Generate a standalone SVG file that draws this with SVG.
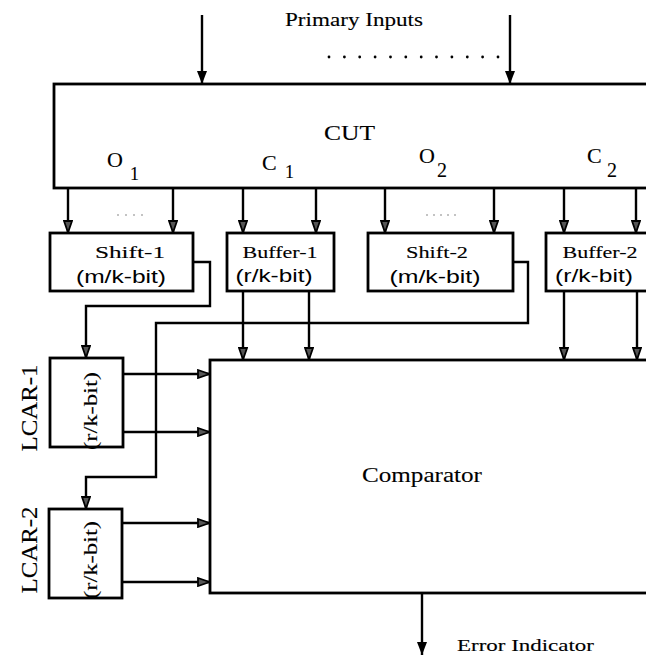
<svg xmlns="http://www.w3.org/2000/svg" width="646" height="657" viewBox="0 0 646 657">
<style>
.box{fill:none;stroke:#000;stroke-width:2.8}
.ln{fill:none;stroke:#000;stroke-width:2.4}
.s{font-family:"Liberation Serif","Times New Roman",serif;fill:#000;stroke:#000;stroke-width:0.12}
.ss{font-family:"Liberation Sans",Arial,sans-serif;fill:#000}
.dot{fill:#000}
</style>
<defs>
<marker id="ah" viewBox="0 0 13 10" refX="13" refY="5" markerWidth="13" markerHeight="10" orient="auto" markerUnits="userSpaceOnUse">
<path d="M1,1 L12.5,5 L1,9 Z" fill="#555" stroke="#000" stroke-width="1.8"/>
</marker>
<marker id="as" viewBox="0 0 13 10" refX="13" refY="5" markerWidth="14" markerHeight="10" orient="auto" markerUnits="userSpaceOnUse">
<path d="M0,0 L13,5 L0,10 Z" fill="#000"/>
</marker>
</defs>
<rect width="646" height="657" fill="#fff"/>

<g id="labels">
<text class="s" x="285" y="26" font-size="19" textLength="138" lengthAdjust="spacingAndGlyphs">Primary Inputs</text>
<g class="dot">
<circle cx="329" cy="57" r="1.4"/><circle cx="344.4" cy="57" r="1.4"/><circle cx="359.7" cy="57" r="1.4"/><circle cx="375.1" cy="57" r="1.4"/><circle cx="390.5" cy="57" r="1.4"/><circle cx="405.8" cy="57" r="1.4"/><circle cx="421.2" cy="57" r="1.4"/><circle cx="436.5" cy="57" r="1.4"/><circle cx="451.9" cy="57" r="1.4"/><circle cx="467.3" cy="57" r="1.4"/><circle cx="482.6" cy="57" r="1.4"/><circle cx="498" cy="57" r="1.4"/>
</g>
<g fill="#777">
<circle cx="118" cy="215" r="0.8"/><circle cx="126" cy="215" r="0.8"/><circle cx="134" cy="215" r="0.8"/><circle cx="142" cy="215" r="0.8"/>
<circle cx="427" cy="215" r="0.8"/><circle cx="434" cy="215" r="0.8"/><circle cx="441" cy="215" r="0.8"/><circle cx="448" cy="215" r="0.8"/><circle cx="455" cy="215" r="0.8"/>
</g>
<text class="s" x="457" y="651" font-size="16" textLength="137" lengthAdjust="spacingAndGlyphs">Error Indicator</text>
</g>

<g id="cut">
<rect class="box" x="54" y="84" width="610" height="104"/>
<text class="s" x="324" y="140" font-size="21" textLength="51" lengthAdjust="spacingAndGlyphs">CUT</text>
<text class="s" x="107" y="167" font-size="22">O</text><text class="s" x="130" y="180" font-size="18">1</text>
<text class="s" x="262" y="170" font-size="22">C</text><text class="s" x="285" y="178" font-size="18">1</text>
<text class="s" x="419" y="163" font-size="22">O</text><text class="s" x="437" y="177" font-size="20">2</text>
<text class="s" x="587" y="163" font-size="22">C</text><text class="s" x="607" y="177" font-size="20">2</text>
</g>

<g id="shift1">
<rect class="box" x="50" y="233" width="143" height="58"/>
<text class="s" x="130" y="258" font-size="17" text-anchor="middle" textLength="70" lengthAdjust="spacingAndGlyphs">Shift-1</text>
<text class="ss" x="121" y="283" font-size="19" text-anchor="middle" textLength="90" lengthAdjust="spacingAndGlyphs">(m/k-bit)</text>
</g>
<g id="buffer1">
<rect class="box" x="227" y="233" width="107" height="58"/>
<text class="s" x="280" y="258" font-size="17" text-anchor="middle" textLength="75" lengthAdjust="spacingAndGlyphs">Buffer-1</text>
<text class="ss" x="274" y="282" font-size="19" text-anchor="middle" textLength="77" lengthAdjust="spacingAndGlyphs">(r/k-bit)</text>
</g>
<g id="shift2">
<rect class="box" x="368" y="233" width="145" height="58"/>
<text class="s" x="437" y="258" font-size="17" text-anchor="middle" textLength="62" lengthAdjust="spacingAndGlyphs">Shift-2</text>
<text class="ss" x="435" y="283" font-size="19" text-anchor="middle" textLength="91" lengthAdjust="spacingAndGlyphs">(m/k-bit)</text>
</g>
<g id="buffer2">
<rect class="box" x="546" y="233" width="110" height="58"/>
<text class="s" x="600" y="258" font-size="17" text-anchor="middle" textLength="75" lengthAdjust="spacingAndGlyphs">Buffer-2</text>
<text class="ss" x="594" y="282" font-size="19" text-anchor="middle" textLength="78" lengthAdjust="spacingAndGlyphs">(r/k-bit)</text>
</g>

<g id="lcar1">
<rect class="box" x="50" y="358" width="73" height="89"/>
<text class="s" transform="translate(97,411) rotate(-90)" font-size="19" text-anchor="middle" textLength="78" lengthAdjust="spacingAndGlyphs">(r/k-bit)</text>
<text class="s" transform="translate(37,408) rotate(-90)" font-size="24" text-anchor="middle" textLength="87" lengthAdjust="spacingAndGlyphs">LCAR-1</text>
</g>
<g id="lcar2">
<rect class="box" x="49" y="509" width="73" height="89"/>
<text class="s" transform="translate(97,560) rotate(-90)" font-size="19" text-anchor="middle" textLength="78" lengthAdjust="spacingAndGlyphs">(r/k-bit)</text>
<text class="s" transform="translate(37,550) rotate(-90)" font-size="24" text-anchor="middle" textLength="87" lengthAdjust="spacingAndGlyphs">LCAR-2</text>
</g>

<g id="comparator">
<rect class="box" x="210" y="360" width="460" height="233"/>
<text class="s" x="422" y="482" font-size="22" text-anchor="middle" textLength="120" lengthAdjust="spacingAndGlyphs">Comparator</text>
</g>

<g id="connectors" class="ln">
<path d="M202,15 V84" marker-end="url(#as)"/>
<path d="M510,15 V84" marker-end="url(#as)"/>
<path d="M68,188 V233" marker-end="url(#ah)"/>
<path d="M173,188 V233" marker-end="url(#ah)"/>
<path d="M243,188 V233" marker-end="url(#ah)"/>
<path d="M316,188 V233" marker-end="url(#ah)"/>
<path d="M385,188 V233" marker-end="url(#ah)"/>
<path d="M494,188 V233" marker-end="url(#ah)"/>
<path d="M564,188 V233" marker-end="url(#ah)"/>
<path d="M636,188 V233" marker-end="url(#ah)"/>
<path d="M243,291 V360" marker-end="url(#ah)"/>
<path d="M309,291 V360" marker-end="url(#ah)"/>
<path d="M564,291 V360" marker-end="url(#ah)"/>
<path d="M637,291 V360" marker-end="url(#ah)"/>
<path d="M193,262 H210 V306 H86 V358" marker-end="url(#ah)"/>
<path d="M513,262 H528 V323 H156 V477 H86 V509" marker-end="url(#ah)"/>
<path d="M123,374 H210" marker-end="url(#ah)"/>
<path d="M123,432 H210" marker-end="url(#ah)"/>
<path d="M122,523 H210" marker-end="url(#ah)"/>
<path d="M122,582 H210" marker-end="url(#ah)"/>
<path d="M422,593 V655" marker-end="url(#as)"/>
</g>
</svg>
